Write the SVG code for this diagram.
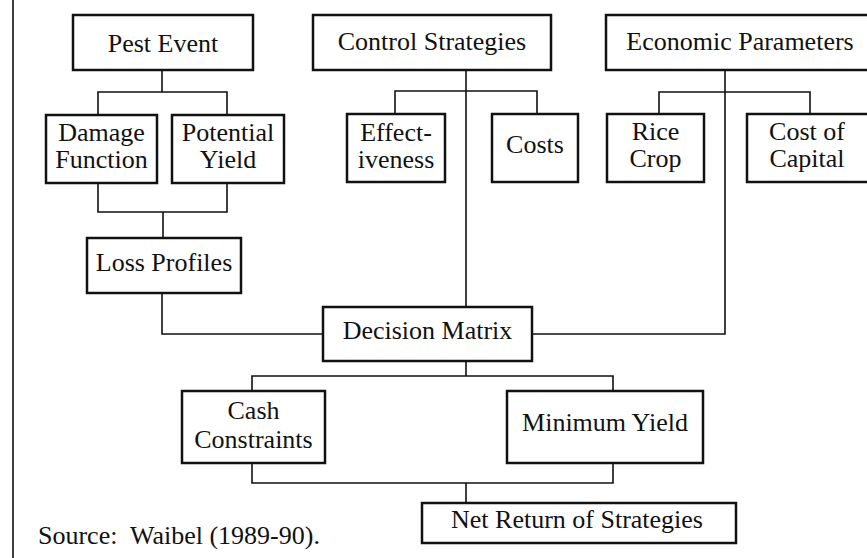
<svg xmlns="http://www.w3.org/2000/svg" width="867" height="558" viewBox="0 0 867 558">
<style>
.box{fill:#fff;stroke:#111;stroke-width:2.5}
.ln{fill:none;stroke:#111;stroke-width:1.6}
text{font-family:"Liberation Serif","Times New Roman",serif;font-size:26px;fill:#111;text-anchor:middle}
</style>
<rect width="867" height="558" fill="#fff"/>
<g id="connectors">
<path class="ln" d="M13 0V558"/>
<path class="ln" d="M162 70V92M98 115V92H227V115"/>
<path class="ln" d="M98 183V212H227V183M163 212V238"/>
<path class="ln" d="M162 293V334H323"/>
<path class="ln" d="M466 70V307M395 114V91H537V114"/>
<path class="ln" d="M725 70V334H532M659 114V92H810V114"/>
<path class="ln" d="M466 361V376M252 391V376H613V391"/>
<path class="ln" d="M252 463V483H613V463M466 483V503"/>
</g>
<g id="pest-event"><rect class="box" x="73" y="15" width="180" height="55"/><text x="163" y="52">Pest Event</text></g>
<g id="control-strategies"><rect class="box" x="313" y="15" width="238" height="55"/><text x="432" y="50">Control Strategies</text></g>
<g id="economic-parameters"><rect class="box" x="606" y="15" width="264" height="55"/><text x="740" y="50">Economic Parameters</text></g>
<g id="damage-function"><rect class="box" x="46" y="115" width="111" height="68"/><text x="101.5" y="141">Damage</text><text x="101.5" y="168">Function</text></g>
<g id="potential-yield"><rect class="box" x="172" y="115" width="112" height="68"/><text x="228" y="141">Potential</text><text x="228" y="168">Yield</text></g>
<g id="effectiveness"><rect class="box" x="347" y="114" width="98" height="68"/><text x="396" y="141">Effect-</text><text x="396" y="168">iveness</text></g>
<g id="costs"><rect class="box" x="492" y="114" width="86" height="68"/><text x="535" y="153">Costs</text></g>
<g id="rice-crop"><rect class="box" x="607" y="114" width="97" height="68"/><text x="655.5" y="140">Rice</text><text x="655.5" y="167">Crop</text></g>
<g id="cost-of-capital"><rect class="box" x="747" y="114" width="123" height="68"/><text x="807" y="140">Cost of</text><text x="807" y="167">Capital</text></g>
<g id="loss-profiles"><rect class="box" x="87" y="238" width="154" height="55"/><text x="164" y="271">Loss Profiles</text></g>
<g id="decision-matrix"><rect class="box" x="323" y="307" width="209" height="54"/><text x="427.5" y="339">Decision Matrix</text></g>
<g id="cash-constraints"><rect class="box" x="182" y="391" width="143" height="72"/><text x="253.5" y="419">Cash</text><text x="253.5" y="448">Constraints</text></g>
<g id="minimum-yield"><rect class="box" x="507" y="391" width="196" height="72"/><text x="605" y="431">Minimum Yield</text></g>
<g id="net-return"><rect class="box" x="422" y="503" width="314" height="40"/><text x="577" y="528">Net Return of Strategies</text></g>
<text x="38" y="544" style="text-anchor:start;font-size:26px">Source:&#160; Waibel (1989-90).</text>
</svg>
